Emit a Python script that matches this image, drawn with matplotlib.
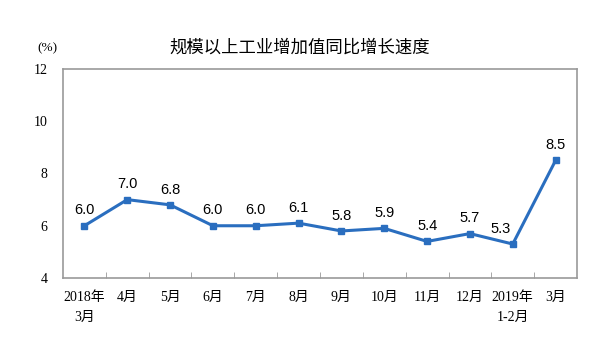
import matplotlib
matplotlib.use("Agg")
import matplotlib.pyplot as plt

categories = ["2018年\n3月", "4月", "5月", "6月", "7月", "8月", "9月", "10月", "11月", "12月", "2019年\n1-2月", "3月"]
values = [6.0, 7.0, 6.8, 6.0, 6.0, 6.1, 5.8, 5.9, 5.4, 5.7, 5.3, 8.5]
yticks = [4, 6, 8, 10, 12]
title = "规模以上工业增加值同比增长速度"

W, H = 613, 355
fig = plt.figure(figsize=(W/100, H/100), dpi=100)
ax = fig.add_axes([63/W, 1-278/H, (577-63)/W, (278-69)/H])

x = list(range(len(values)))
ax.plot(x, values, color="#2a6ebf", lw=2.2, marker="s", ms=3.8, zorder=3)
ax.set_xlim(-0.5, len(values)-0.5)
ax.set_ylim(4, 12)
ax.set_yticks(yticks)
ax.set_yticklabels([str(t) for t in yticks], family=["Liberation Serif"], fontsize=10)
ax.tick_params(axis="y", length=0, pad=11)

ax.set_xticks(x)
ax.set_xticklabels(categories, family=["Liberation Serif", "Noto Sans CJK SC"], fontsize=10, linespacing=1.75, va="top")
ax.tick_params(axis="x", length=0, pad=9)
ax.set_xticks([i - 0.5 for i in range(1, len(values))], minor=True)
ax.tick_params(axis="x", which="minor", direction="in", length=4, color="#999999")

for s in ax.spines.values():
    s.set_color("#999999")
    s.set_linewidth(1.2)

for i, v in enumerate(values):
    dx = -0.2 if i == 10 else 0
    ax.annotate(f"{v:.1f}", (i, v), xytext=(dx*42.7, 6), textcoords="offset points",
                ha="center", va="bottom", fontsize=10.5, family=["Liberation Sans"])

fig.text(300/W, 1-48/H, title, ha="center", va="center", fontsize=12.5,
         family=["Noto Sans CJK SC"])
fig.text(47/W, 1-48/H, "(%)", ha="center", va="center", fontsize=9.5, family=["Liberation Serif"])

fig.savefig("out.png", dpi=100, facecolor="white")
